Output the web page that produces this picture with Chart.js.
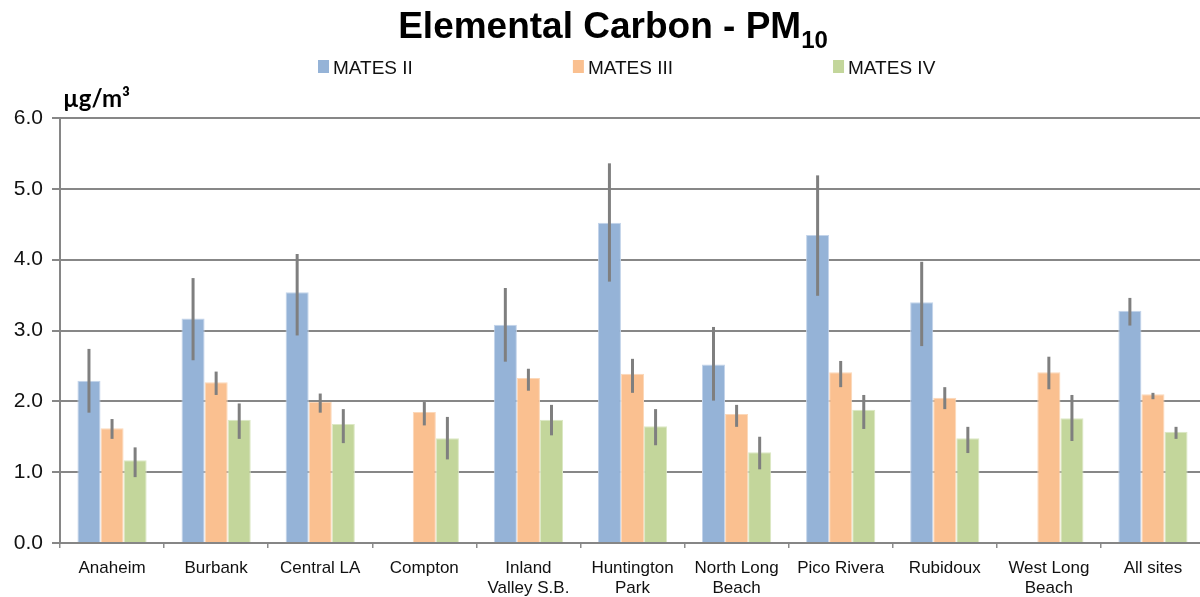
<!DOCTYPE html>
<html lang="en">
<head>
  <meta charset="UTF-8" />
  <title>Elemental Carbon - PM10</title>
  <script src="https://cdn.jsdelivr.net/npm/chart.js"></script>
  <style>
    html, body {
      margin: 0;
      padding: 0;
      background: #fff;
      overflow: hidden;
    }

    #wrap {
      position: relative;
      width: 1205px;
      height: 597px;
    }
  </style>
</head>
<body>
  <div id="wrap"><canvas id="ecChart"></canvas></div>

  <script>
    // monitoring sites (x axis)
    const sites = ['Anaheim', 'Burbank', 'Central LA', 'Compton', ['Inland', 'Valley S.B.'],
      ['Huntington', 'Park'], ['North Long', 'Beach'], 'Pico Rivera', 'Rubidoux',
      ['West Long', 'Beach'], 'All sites'];
    const seriesNames = ['MATES II', 'MATES III', 'MATES IV'];

    // mean EC concentration (ug/m3) with error bar ends
    const mates2   = [2.29, 3.17, 3.54, null, 3.08, 4.52, 2.52, 4.35, 3.40, null, 3.28];
    const mates2Lo = [1.84, 2.58, 2.93, null, 2.56, 3.69, 2.01, 3.49, 2.78, null, 3.07];
    const mates2Hi = [2.74, 3.74, 4.08, null, 3.60, 5.36, 3.05, 5.19, 3.97, null, 3.46];

    const mates3   = [1.62, 2.27, 1.99, 1.85, 2.33, 2.39, 1.82, 2.41, 2.05, 2.41, 2.10];
    const mates3Lo = [1.47, 2.09, 1.84, 1.66, 2.15, 2.12, 1.64, 2.20, 1.89, 2.17, 2.03];
    const mates3Hi = [1.75, 2.42, 2.11, 1.99, 2.46, 2.60, 1.95, 2.57, 2.20, 2.63, 2.12];

    const mates4   = [1.17, 1.74, 1.68, 1.48, 1.74, 1.65, 1.28, 1.88, 1.48, 1.76, 1.57];
    const mates4Lo = [0.93, 1.47, 1.41, 1.18, 1.52, 1.38, 1.04, 1.61, 1.27, 1.44, 1.47];
    const mates4Hi = [1.35, 1.97, 1.89, 1.78, 1.95, 1.89, 1.50, 2.09, 1.64, 2.09, 1.64];

    const yTicks = [0, 1, 2, 3, 4, 5, 6];

    const fills   = ['#95B3D7', '#FAC090', '#C3D69B'];
    const borders = ['#c3d4ea', '#fcd8b9', '#dce8c4'];
    const FONT = '"Liberation Sans", Arial, sans-serif';

    // vertical error bars drawn on top of the bars
    const errorBars = {
      id: 'errorBars',
      afterDatasetsDraw(chart) {
        const ctx = chart.ctx;
        const y = chart.scales.y;
        ctx.save();
        ctx.strokeStyle = '#7f7f7f';
        ctx.lineWidth = 3;
        chart.data.datasets.forEach((ds, i) => {
          chart.getDatasetMeta(i).data.forEach((bar, j) => {
            if (ds.errLo[j] == null) return;
            ctx.beginPath();
            ctx.moveTo(bar.x, y.getPixelForValue(ds.errLo[j]));
            ctx.lineTo(bar.x, y.getPixelForValue(ds.errHi[j]));
            ctx.stroke();
          });
        });
        ctx.restore();
      }
    };

    // title with subscript, legend row and unit label
    const header = {
      id: 'header',
      afterDraw(chart) {
        const ctx = chart.ctx;
        ctx.save();
        ctx.fillStyle = '#000';
        ctx.textBaseline = 'alphabetic';
        ctx.textAlign = 'left';

        const main = 'Elemental Carbon - PM';
        const sub = '10';
        ctx.font = 'bold 37px ' + FONT;
        const wMain = ctx.measureText(main).width;
        ctx.font = 'bold 24px ' + FONT;
        const wSub = ctx.measureText(sub).width;
        const tx = 613 - (wMain + wSub) / 2;
        ctx.font = 'bold 37px ' + FONT;
        ctx.fillText(main, tx, 38);
        ctx.font = 'bold 24px ' + FONT;
        ctx.fillText(sub, tx + wMain, 48);

        // legend
        ctx.font = '19px ' + FONT;
        let lx = 318;
        chart.data.datasets.forEach(ds => {
          ctx.fillStyle = ds.backgroundColor;
          ctx.fillRect(lx, 60, 11, 13);
          ctx.fillStyle = '#111';
          ctx.fillText(ds.label, lx + 15, 74);
          lx += 15 + ctx.measureText(ds.label).width + 160;
        });

        // unit
        ctx.fillStyle = '#000';
        ctx.font = 'bold 24px Lato, "Open Sans", sans-serif';
        ctx.fillText('µg/m³', 63, 107);
        ctx.restore();
      }
    };

    new Chart(document.getElementById('ecChart'), {
      type: 'bar',
      data: {
        labels: sites,
        datasets: [
          { label: seriesNames[0], data: mates2, errLo: mates2Lo, errHi: mates2Hi },
          { label: seriesNames[1], data: mates3, errLo: mates3Lo, errHi: mates3Hi },
          { label: seriesNames[2], data: mates4, errLo: mates4Lo, errHi: mates4Hi }
        ].map((d, i) => Object.assign(d, {
          backgroundColor: fills[i],
          borderColor: borders[i],
          borderWidth: 1,
          categoryPercentage: 0.665,
          barPercentage: 1.0
        }))
      },
      options: {
        responsive: true,
        maintainAspectRatio: false,
        animation: false,
        layout: { padding: { top: 118, left: 0, right: 0, bottom: 0 } },
        plugins: {
          legend: { display: false },
          title: { display: false },
          tooltip: { enabled: false }
        },
        scales: {
          x: {
            grid: {
              display: true,
              drawOnChartArea: false,
              drawTicks: true,
              tickLength: 5,
              offset: true,
              color: '#8c8c8c',
              lineWidth: 1.5
            },
            border: { display: true, color: '#868686', width: 2 },
            ticks: {
              color: '#111',
              font: { family: FONT, size: 17, lineHeight: 1.15 },
              padding: 11,
              maxRotation: 0,
              autoSkip: false
            },
            afterFit: s => { s.height = 54; }
          },
          y: {
            min: 0,
            max: 6,
            afterBuildTicks: s => { s.ticks = yTicks.map(v => ({ value: v })); },
            grid: {
              color: '#878787',
              lineWidth: 2,
              drawTicks: true,
              tickLength: 8
            },
            border: { display: true, color: '#868686', width: 2 },
            ticks: {
              color: '#111',
              font: { family: FONT, size: 21 },
              padding: 9,
              callback: v => v.toFixed(1)
            },
            afterFit: s => { s.width = 60; }
          }
        }
      },
      plugins: [errorBars, header]
    });
  </script>
</body>
</html>
